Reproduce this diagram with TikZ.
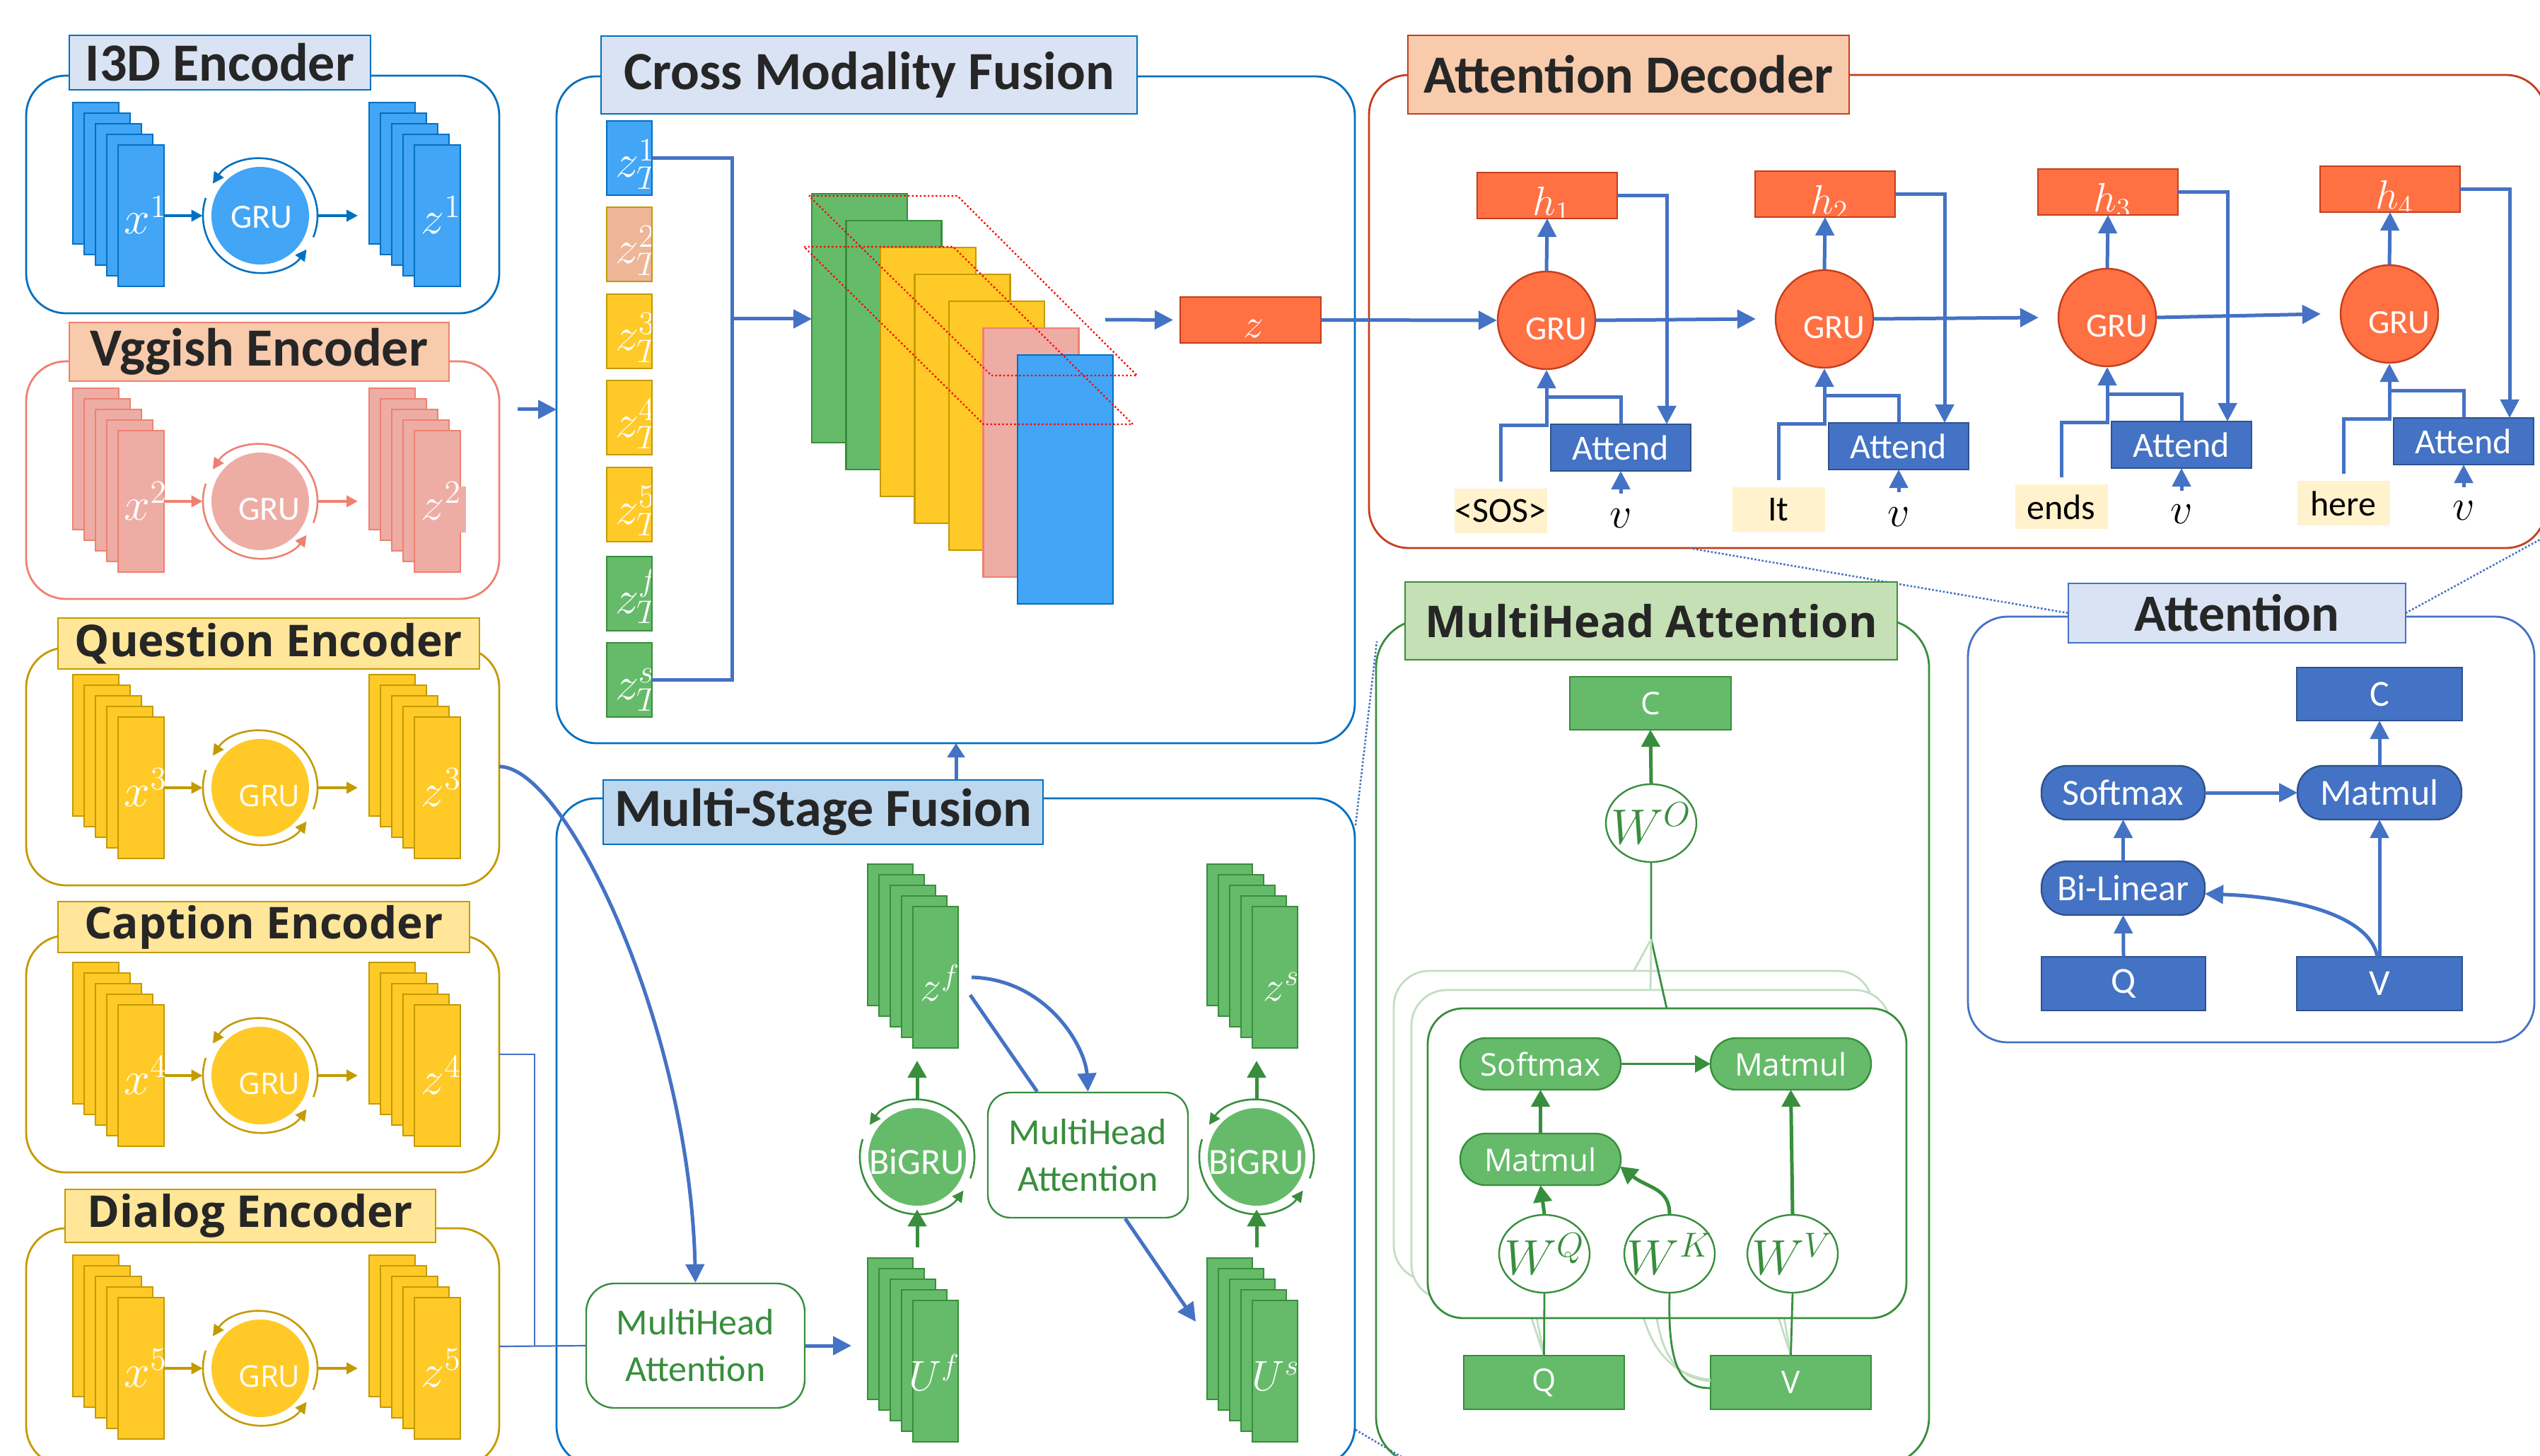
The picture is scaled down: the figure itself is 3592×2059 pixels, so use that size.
\RequirePackage{fix-cm}
\documentclass[tikz,border=0pt]{standalone}
\usepackage{graphicx}
\usepackage{fontspec}
\setmainfont{Carlito}
\newfontfamily\osans{Open Sans}
\usetikzlibrary{arrows.meta,shapes.geometric,calc}

\definecolor{bBlue}{HTML}{42A5F5}
\definecolor{bBlueD}{HTML}{0070C0}
\definecolor{salm}{HTML}{EDADA5}
\definecolor{salmD}{HTML}{EF8070}
\definecolor{gold}{HTML}{FFCA28}
\definecolor{goldD}{HTML}{C49A00}
\definecolor{grn}{HTML}{66BB6A}
\definecolor{grnD}{HTML}{388E3C}
\definecolor{grnL}{HTML}{C5E0B4}
\definecolor{grnF}{HTML}{C3DEC3}
\definecolor{org}{HTML}{FF7043}
\definecolor{orgD}{HTML}{C43E1C}
\definecolor{stl}{HTML}{4472C4}
\definecolor{stlD}{HTML}{2F528F}
\definecolor{ttlBlue}{HTML}{DAE3F3}
\definecolor{ttlBlueB}{HTML}{BDD7EE}
\definecolor{ttlPeach}{HTML}{F8CBAD}
\definecolor{ttlGold}{HTML}{FFE699}
\definecolor{peach}{HTML}{EEB596}
\definecolor{tokbg}{HTML}{FFF2CC}
\definecolor{ink}{HTML}{262626}

\newcommand\fsz[1]{\fontsize{#1}{#1}\selectfont}
% math symbol set at 20pt and magnified
\newcommand\mlab[2]{\scalebox{#1}{\fsz{20}$#2$}}

\tikzset{
  sz/.style 2 args={minimum width={(#1)*0.5pt},minimum height={(#2)*0.5pt}},
  cell/.style={draw, rectangle, inner sep=0pt, outer sep=0pt, line width=1.2pt},
  frame/.style={line width=1.4pt, rounded corners=28pt},
  ttl/.style={cell, line width=1.4pt, text=ink, font=\bfseries\fsz{38}},
  ttlw/.style={cell, line width=1.4pt, text=ink, font=\osans\bfseries\fsz{31}},
  stk/.style={cell, sz={65}{200}, anchor=north west},
  gstk/.style={cell, sz={64}{200}, anchor=north west, fill=grn, draw=grnD},
  lbl/.style={text=white, inner sep=0pt},
  bl/.style={draw=stl, line width=2.5pt},
  bla/.style={bl, -{Triangle[length=13pt,width=13pt]}},
  thinb/.style={draw=stl, line width=1.1pt},
  dotl/.style={draw=stl, line width=1.3pt, dash pattern=on 1.3pt off 1.3pt},
  gl/.style={draw=grnD, line width=1.4pt},
  ga/.style={draw=grnD, line width=2.5pt, -{Triangle[length=12pt,width=13pt]}},
  fl/.style={draw=grnF, line width=1.4pt},
  pill/.style={draw, rounded corners=18pt, inner sep=0pt, outer sep=0pt, line width=1.2pt},
  wnode/.style={ellipse, draw=grnD, fill=white, line width=1.2pt, minimum width=64pt, minimum height=55pt, inner sep=0pt},
  wtxt/.style={text=grnD, inner sep=0pt},
  ringarc/.style={line width=1.3pt, -{Triangle[length=8pt,width=8pt]}},
}

% one recurrent encoder: frames of inputs, a GRU with its loop, frames of outputs
% #1 frame top, #2 fill, #3 stroke, #4 index, #5 GRU font, #6 GRU text shift, #7 extra drawing
\newcommand\encoder[7]{%
  \foreach \k in {0,...,4}{%
    \pgfmathsetmacro\xa{103+16*\k}%
    \pgfmathsetmacro\xb{522+16*\k}%
    \pgfmathsetmacro\yy{#1+38+15*\k}%
    \node[stk, fill=#2, draw=#3] (x#4-\k) at (\xa,\yy) {};
    \node[stk, fill=#2, draw=#3] (z#4-\k) at (\xb,\yy) {};
  }
  \node[circle, fill=#2, inner sep=0pt, minimum size=69pt] (g#4) at (368,#1+198) {};
  \node[circle, inner sep=0pt, minimum size=81pt] (r#4) at (g#4) {};
  \node[text=white, inner sep=0pt, font=#5] at ([shift={(#6)}]g#4.center) {GRU};
  \draw[ringarc, draw=#3] ([shift={(-22:40.5pt)}]g#4.center) arc[start angle=-22, end angle=146, radius=40.5pt];
  \draw[ringarc, draw=#3] ([shift={(162:40.5pt)}]g#4.center) arc[start angle=162, end angle=324, radius=40.5pt];
  \draw[draw=#3, line width=2pt, -{Triangle[length=8pt,width=8pt]}] (x#4-4.east |- g#4.center) -- (r#4.west);
  \draw[draw=#3, line width=2pt, -{Triangle[length=8pt,width=8pt]}] (r#4.east) -- ([xshift=-8pt]z#4-0.west |- g#4.center);
  #7
  \node[lbl, anchor=base east] at (237,#1+224) {\mlab{1.65}{x^{#4}}};
  \node[lbl, anchor=base east] at (653,#1+224) {\mlab{1.65}{z^{#4}}};
}

% one small feature tile of the fusion column, label clipped by the tile
\newcommand\tile[5]{%
  \node[cell, sz={64}{105}, anchor=north west, fill=#3, draw=#4,
        path picture={\node[lbl, anchor=base west] at ([shift={(12,80)}]path picture bounding box.north west) {\mlab{1.65}{#5}};}]
        (#1) at (858,#2) {};
}

\begin{document}
\begin{tikzpicture}[x=0.5pt,y=-0.5pt]
\useasboundingbox[fill=white] (0,0) rectangle (3592,2059);

% ---------- dotted zoom guides ----------
\draw[dotl] (1917,1167) -- (1947,907);
\draw[dotl] (1917,2022) -- (1992,2066);

% ---------- encoder frames and titles ----------
\draw[frame, draw=bBlueD] (37,107) rectangle (706,443);
\draw[frame, draw=salmD] (37,511) rectangle (706,847);
\draw[frame, draw=goldD] (37,916) rectangle (706,1252);
\draw[frame, draw=goldD] (37,1323) rectangle (706,1658);
\draw[frame, draw=goldD] (37,1737) rectangle (706,2073);
\node[ttl, fill=ttlBlue, draw=bBlueD, sz={426}{77}] (tI3D) at (311,88.5) {I3D Encoder};
\node[ttl, fill=ttlPeach, draw=salmD, sz={537}{83}] (tVgg) at (366.5,497.5) {Vggish Encoder};
\node[ttlw, fill=ttlGold, draw=goldD, sz={596}{72}] (tQue) at (380,910) {Question Encoder};
\node[ttlw, fill=ttlGold, draw=goldD, sz={582}{72}] (tCap) at (373,1311) {Caption Encoder};
\node[ttlw, fill=ttlGold, draw=goldD, sz={524}{75}] (tDia) at (354,1719.5) {Dialog Encoder};

\encoder{107}{bBlue}{bBlueD}{1}{\fsz{24}}{2,2}{}
\encoder{511}{salm}{salmD}{2}{\fsz{24}}{13,11}{\fill[salm] (645,688) rectangle (659,753);}
\encoder{916}{gold}{goldD}{3}{\osans\fsz{21}}{13,11}{}
\encoder{1323}{gold}{goldD}{4}{\osans\fsz{21}}{13,11}{}
\encoder{1737}{gold}{goldD}{5}{\osans\fsz{21}}{13,11}{}

% ---------- cross modality fusion ----------
\draw[frame, draw=bBlueD] (787,108) rectangle (1916,1051);
\node[ttl, fill=ttlBlue, draw=bBlueD, sz={758}{110}] (tCMF) at (1229,106) {Cross Modality Fusion};

\tile{t1}{171}{bBlue}{bBlueD}{z^{1}_{T_1}}
\tile{t2}{293}{peach}{goldD}{z^{2}_{T_2}}
\tile{t3}{416}{gold}{goldD}{z^{3}_{T_3}}
\tile{t4}{538}{gold}{goldD}{z^{4}_{T_4}}
\tile{t5}{661}{gold}{goldD}{z^{5}_{T_5}}
\tile{t6}{787}{grn}{grnD}{z^{f}_{T}}
\tile{t7}{909}{grn}{grnD}{z^{s}_{T_s}}

\foreach \i/\f/\d in {1/grn/grnD,2/grn/grnD,3/gold/goldD,4/gold/goldD,5/gold/goldD,6/salm/salmD,7/bBlue/bBlueD}{
  \node[cell, fill=\f, draw=\d, sz={135}{352}, anchor=north west] (R\i) at ({1148+48.5*(\i-1)},{274+38*(\i-1)}) {};
}
\draw[red, line width=1.1pt, dash pattern=on 1.2pt off 1.6pt] (1144,277) -- (1354,277) -- (1608,531) -- (1402,531) -- cycle;
\draw[red, line width=1.1pt, dash pattern=on 1.2pt off 1.6pt] (1137,349) -- (1348,349) -- (1602,600) -- (1391,600) -- cycle;

\coordinate (cmj) at (1035,451);
\draw[bl] (t1.east) -| (cmj) |- (t7.east);
\draw[bla] (cmj) -- (R1.west |- cmj);

\node[cell, fill=org, draw=orgD, sz={199}{65}] (zb) at (1768.5,452.5) {};
\node[lbl, anchor=base] at (1773,478) {\mlab{1.45}{z}};
\coordinate (cms) at (1563,452);
\draw[bla] (cms) -- ([xshift=-5pt]zb.west);

\coordinate (vout) at (732,579);
\coordinate (cmin) at (787,579);
\draw[bla] (vout) -- (cmin);

% ---------- multi-stage fusion ----------
\draw[frame, draw=bBlueD] (787,1129) rectangle (1916,2073);
\node[ttl, fill=ttlBlueB, draw=bBlueD, sz={622}{91}] (tMSF) at (1164,1148.5) {Multi-Stage Fusion};
\coordinate (cmfb) at (1352,1051);
\draw[bl, -{Triangle[length=10pt,width=12pt]}] ([xshift=94pt]tMSF.north) -- (cmfb);

\foreach \nm/\sx/\sy in {zf/1227/1222, zs/1707/1222, Uf/1227/1779, Us/1707/1779}{
  \foreach \k in {0,...,4}{
    \node[gstk] (\nm-\k) at ({\sx+16*\k},{\sy+15*\k}) {};
  }
}
\node[lbl, anchor=base east] at (1358,1415) {\mlab{1.5}{z^{f}}};
\node[lbl, anchor=base east] at (1838,1415) {\mlab{1.5}{z^{s}}};
\node[lbl, anchor=base east] at (1358,1966) {\mlab{1.5}{U^{f}}};
\node[lbl, anchor=base east] at (1838,1966) {\mlab{1.5}{U^{s}}};

\foreach \i/\cx in {1/1297, 2/1777}{
  \node[circle, fill=grn, inner sep=0pt, minimum size=69pt] (bg\i) at (\cx,1636) {};
  \node[circle, inner sep=0pt, minimum size=81pt] (bgr\i) at (bg\i) {};
  \node[text=white, font=\fsz{26}, inner sep=0pt] at ([shift={(0,7)}]bg\i.center) {BiGRU};
  \draw[ringarc, draw=grnD] ([shift={(-22:40.5pt)}]bg\i.center) arc[start angle=-22, end angle=146, radius=40.5pt];
  \draw[ringarc, draw=grnD] ([shift={(162:40.5pt)}]bg\i.center) arc[start angle=162, end angle=324, radius=40.5pt];
}
\draw[ga] ([yshift=7.5pt]bgr1.south |- Uf-0.north) -- ([yshift=3.5pt]bgr1.south);
\draw[ga] (bgr1.north) -- ([yshift=-9pt]bgr1.north |- zf-4.south);
\draw[ga] ([yshift=7.5pt]bgr2.south |- Us-0.north) -- ([yshift=3.5pt]bgr2.south);
\draw[ga] (bgr2.north) -- ([yshift=-9pt]bgr2.north |- zs-4.south);

\node[draw=grnD, fill=white, line width=1.2pt, rounded corners=20pt, sz={309}{176}, align=center, text=grnD, font=\fontsize{26}{33}\selectfont, inner sep=0pt] (mh1) at (983.5,1903) {MultiHead\\Attention};
\node[draw=grnD, fill=white, line width=1.2pt, rounded corners=16pt, sz={283}{177}, align=center, text=grnD, font=\fontsize{26}{33}\selectfont, inner sep=0pt] (mh2) at (1538.5,1633.5) {MultiHead\\Attention};

\draw[bla] (mh1.east) -- ([xshift=-11.5pt]Uf-0.west |- mh1.east);
\draw[bla] ([xshift=9.5pt]zf-4.east) .. controls (1480,1385) and (1535,1480) .. (mh2.north);
\draw[bl] ([shift={(17,25)}]zf-4.east) -- ([xshift=35.5pt]mh2.north west);
\coordinate (usin) at (1691,1869);
\draw[bla] ([xshift=-45pt]mh2.south east) -- (usin);

% encoder outputs feeding the first attention
\coordinate (qout) at (706,1084);
\draw[bla] (qout) .. controls (800,1084) and (975,1450) .. (mh1.north);
\coordinate (cout) at (706,1491);
\coordinate (cjoin) at (756,1904);
\coordinate (dout) at (706,1904);
\draw[thinb] (cout) -| (cjoin);
\draw[thinb] (dout) -- (mh1.west);

% ---------- attention decoder ----------
\draw[frame, draw=orgD] (1936,106) rectangle (3600,775);
\node[ttl, fill=ttlPeach, draw=orgD, sz={624}{111}] (tDec) at (2303,105.5) {Attention Decoder};

\foreach \i/\gx/\gy/\hy/\ay/\ty/\tk in {1/2187/453/244/600/691/{<SOS>},2/2580/451/242/598/689/It,3/2980/449/239/596/685/ends,4/3379/444/235/591/680/here}{
  \node[circle, fill=org, draw=orgD, line width=1.2pt, minimum size=69pt, inner sep=0pt] (dg\i) at (\gx,\gy) {};
  \node[text=white, font=\fsz{24}, inner sep=0pt] at ([shift={(14,12)}]dg\i.center) {GRU};
  \node[cell, fill=org, draw=orgD, sz={198}{65}, anchor=north,
        path picture={\node[lbl, anchor=base] at ([shift={(6,61)}]path picture bounding box.north) {\mlab{1.45}{h_{\i}}};}]
        (hb\i) at (\gx+1,\hy) {};
  \node[cell, fill=stl, draw=stlD, sz={198}{66}, anchor=north, text=white, font=\fsz{25}] (ab\i) at (\gx+105,\ay) {Attend};
  \node[fill=tokbg, sz={131}{63}, anchor=north, inner sep=0pt, font=\fsz{25}, text=black] (tk\i) at (\gx-65,\ty) {\tk};
  \node[inner sep=0pt] (vl\i) at (\gx+105,\ty+42) {\mlab{1.55}{v}};
  \draw[bla] (dg\i.north) -- (hb\i.south);
  \draw[bla] (hb\i.east) -| ([xshift=35pt]hb\i.east |- ab\i.north);
  \draw[bla] ([yshift=-16pt]ab\i.south) -- (ab\i.south);
  \draw[bl] (ab\i.north) |- ([yshift=19pt]ab\i.north -| dg\i.south);
  \draw[bla] ([yshift=5pt]tk\i.north) |- ([yshift=-1pt]ab\i.north west -| dg\i.south) -- (dg\i.south);
}
\draw[bla] (zb.east) -- (dg1.west);
\draw[bla] (dg1.east) -- ([xshift=-13.5pt]dg2.west);
\draw[bla] (dg2.east) -- ([xshift=-13.5pt]dg3.west);
\draw[bla] (dg3.east) -- ([xshift=-13.5pt]dg4.west);

% ---------- attention detail ----------
\draw[frame, draw=stl] (2783,872) rectangle (3584,1474);
\node[ttl, fill=ttlBlue, draw=stl, sz={477}{84}, font=\bfseries\fsz{37}] (tAtt) at (3163.5,867) {Attention};
\draw[dotl] (2394,776) -- (tAtt.west);
\draw[dotl] (tAtt.east) -- (3592,763);

\node[cell, fill=stl, draw=stlD, sz={234}{75}, text=white, font=\fsz{26}] (aC) at (3365,981.5) {C};
\node[pill, fill=stl, draw=stlD, sz={231}{76}, text=white, font=\fsz{26}] (aS) at (3002.5,1121) {Softmax};
\node[pill, fill=stl, draw=stlD, sz={232}{76}, text=white, font=\fsz{26}] (aM) at (3365,1121) {Matmul};
\node[pill, fill=stl, draw=stlD, sz={231}{76}, text=white, font=\fsz{26}] (aB) at (3002.5,1256) {Bi-Linear};
\node[cell, fill=stl, draw=stlD, sz={232}{76}, text=white, font=\fsz{26}] (aQ) at (3003,1391) {Q};
\node[cell, fill=stl, draw=stlD, sz={234}{76}, text=white, font=\fsz{26}] (aV) at (3365,1391) {V};
\draw[bla] (aQ.north) -- (aB.south);
\draw[bla] (aB.north) -- (aS.south);
\draw[bla] (aS.east) -- (aM.west);
\draw[bla] (aM.north) -- (aC.south);
\draw[bla] (aV.north) -- (aM.south);
\draw[bla] ([xshift=-1.5pt]aV.north) .. controls (3350,1290) and (3230,1268) .. ([yshift=-4pt]aB.east);

% ---------- multi-head attention detail ----------
\draw[frame, draw=grnD, rounded corners=34pt] (1946,876) rectangle (2728,2072);
\node[ttlw, fill=grnL, draw=grnD, sz={696}{110}] (tMHA) at (2335,878) {MultiHead Attention};

\node[cell, fill=grn, draw=grnD, sz={227}{76}, text=white, font=\osans\fsz{22}] (mQ) at (2183.5,1955) {Q};
\node[cell, fill=grn, draw=grnD, sz={227}{76}, text=white, font=\osans\fsz{22}] (mV) at (2532.5,1955) {V};

% the stacked heads behind the front one
\draw[fl] (mQ.north) -- (2161,1802);
\draw[fl] (mQ.north) -- (2136,1775);
\draw[fl] (mV.north) -- (2512,1802);
\draw[fl] (mV.north) -- (2487,1775);
\draw[fl] (2338,1803) .. controls (2340,1915) and (2370,1950) .. ([yshift=1pt]mV.west);
\draw[fl] (2313,1776) .. controls (2315,1900) and (2360,1945) .. ([yshift=2pt]mV.west);
\draw[fl, fill=white, rounded corners=25pt] (1971,1373) rectangle (2648,1811);
\draw[fl, fill=white, rounded corners=25pt] (1996,1400) rectangle (2673,1838);
\draw[gl, fill=white, rounded corners=25pt] (2019,1426) rectangle (2696,1864);

\node[cell, fill=grn, draw=grnD, sz={228}{75}, text=white, font=\osans\fsz{22}] (mC) at (2334,994.5) {C};
\node[wnode] (mWO) at (2335,1164) {};
\node[wtxt] at (mWO) {\mlab{1.75}{W^{O}}};
\node[pill, fill=grn, draw=grnD, sz={227}{73}, text=white, font=\osans\fsz{22}] (mS) at (2178.5,1504.5) {Softmax};
\node[pill, fill=grn, draw=grnD, sz={227}{73}, text=white, font=\osans\fsz{22}] (mM2) at (2532.5,1504.5) {Matmul};
\node[pill, fill=grn, draw=grnD, sz={227}{73}, text=white, font=\osans\fsz{22}] (mM1) at (2178.5,1639.5) {Matmul};
\node[wnode] (mWQ) at (2184,1773) {};
\node[wnode] (mWK) at (2361,1773) {};
\node[wnode] (mWV) at (2535,1773) {};
\node[wtxt] at (mWQ) {\mlab{1.75}{W^{Q}}};
\node[wtxt] at (mWK) {\mlab{1.75}{W^{K}}};
\node[wtxt] at (mWV) {\mlab{1.75}{W^{V}}};

\draw[ga] (mWO.north) -- (mC.south);
\draw[gl] (mWO.south) -- (2335,1328) coordinate (spl) -- (2357,1426);
\draw[fl] (spl) -- (2310,1374);
\draw[fl] (spl) -- (2334,1400);
\draw[draw=grnD, line width=1.8pt, -{Triangle[length=11pt,width=12pt]}] (mS.east) -- (mM2.west);
\draw[ga] (mM1.north) -- (mS.south);
\draw[ga] (mWQ.north) -- (mM1.south);
\draw[ga] (mWK.north) .. controls (2361,1680) and (2330,1680) .. ([shift={(-1,10)}]mM1.east);
\draw[ga] (mWV.north) -- (mM2.south);
\draw[gl] (mQ.north) -- (mWQ.south);
\draw[gl] (mV.north) -- (mWV.south);
\draw[gl] (mWK.south) .. controls (2358,1940) and (2380,1963) .. ([yshift=-4pt]mV.west);
\end{tikzpicture}
\end{document}
